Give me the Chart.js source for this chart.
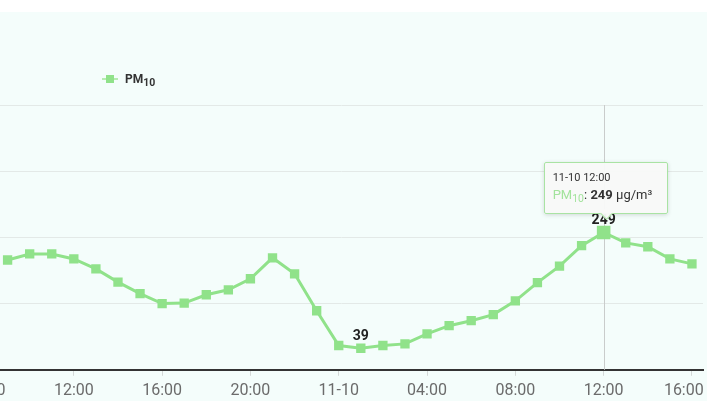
<!DOCTYPE html>
<html>
<head>
<meta charset="utf-8">
<title>PM10</title>
<script src="https://cdn.jsdelivr.net/npm/chart.js@4.4.0/dist/chart.umd.min.js"></script>
<style>
  html, body { margin: 0; padding: 0; background: #fff; overflow: hidden; width: 707px; height: 401px; }
  #wrap { position: absolute; left: 0; top: 12px; width: 707px; height: 389px; background: #f4fdfb; overflow: hidden; font-family: Roboto, sans-serif; }
  #chartBox { position: absolute; left: -60px; top: 0; width: 767px; height: 395px; }
  #legend { position: absolute; left: 102px; top: 59px; height: 16px; display: flex; align-items: center; color: #333; font: bold 12px Roboto, sans-serif; }
  #legend .mark { position: relative; width: 16px; height: 8px; margin-right: 7px; }
  #legend .mark::before { content: ''; position: absolute; left: 0; right: 0; top: 3px; height: 2px; background: #b5ecb0; }
  #legend .mark::after { content: ''; position: absolute; left: 4px; top: 0; width: 8px; height: 8px; background: #90e28a; }
  #legend sub { font-size: 10.5px; vertical-align: -3px; line-height: 0; }
  #tip { position: absolute; display: none; box-sizing: border-box; width: 124px; height: 52px; padding: 8px 0 0 8px; background: rgba(248, 249, 248, 0.96); border: 1px solid #a9e3a3; border-radius: 2px; box-shadow: 0 1px 4px rgba(0,0,0,0.15); color: #333; pointer-events: none; }
  #tip::after { content: ''; position: absolute; left: 57px; bottom: -5px; width: 8px; height: 8px; background: rgba(248, 249, 248, 0.96); border-right: 1px solid #a9e3a3; border-bottom: 1px solid #a9e3a3; transform: rotate(45deg); }
  #tip .t1 { font-size: 11px; line-height: 14px; }
  #tip .t2 { font-size: 13px; line-height: 19px; white-space: nowrap; }
  #tip .t2 .sn { color: #a3e39c; }
  #tip sub { font-size: 10.5px; vertical-align: -3px; line-height: 0; }
</style>
</head>
<body>
<div id="wrap">
  <div id="chartBox"><canvas id="chart"></canvas></div>
  <div id="legend"><span class="mark"></span><span>PM<sub>10</sub></span></div>
  <div id="tip"></div>
</div>
<script>
// hours counted from 11-09 00:00
const hours = [9, 10, 11, 12, 13, 14, 15, 16, 17, 18, 19, 20, 21, 22, 23,
  24, 25, 26, 27, 28, 29, 30, 31, 32, 33, 34, 35, 36, 37, 38, 39, 40];
const pm10 = [199, 210, 210, 201, 183, 159, 138, 120, 121, 136, 145, 165, 203, 174, 107,
  44, 39, 44, 47, 65, 80, 89, 100, 125, 158, 188, 225, 249, 230, 223, 201, 192];
const tickHours = [8, 12, 16, 20, 24, 28, 32, 36, 40];
const tickLabels = ['08:00', '12:00', '16:00', '20:00', '11-10', '04:00', '08:00', '12:00', '16:00'];
const yTicks = [0, 120, 240, 360, 480];
const activeIndex = 27;

const green = '#90e28a';

function fmtTime(h) {
  const day = h >= 24 ? '11-10' : '11-09';
  const hh = String(h % 24).padStart(2, '0');
  return day + ' ' + hh + ':00';
}

function externalTip(context) {
  const tip = document.getElementById('tip');
  const tt = context.tooltip;
  if (tt.opacity === 0 || !tt.dataPoints || !tt.dataPoints.length) {
    tip.style.display = 'none';
    return;
  }
  const dp = tt.dataPoints[0];
  tip.innerHTML = '<div class="t1">' + fmtTime(dp.parsed.x) + '</div>' +
    '<div class="t2"><span class="sn">PM<sub>10</sub></span>: <b>' + dp.parsed.y + '</b> \u03bcg/m\u00b3</div>';
  tip.style.display = 'block';
  const pt = context.chart.getDatasetMeta(0).data[dp.dataIndex];
  tip.style.left = (pt.x - 60 - tip.offsetWidth / 2 + 2) + 'px';
  tip.style.top = (pt.y - 18 - tip.offsetHeight) + 'px';
}

// vertical line at the hovered point
const crosshair = {
  id: 'crosshair',
  beforeDatasetsDraw(chart) {
    const act = chart.getActiveElements();
    if (!act.length) return;
    const x = act[0].element.x;
    const a = chart.chartArea;
    const ctx = chart.ctx;
    ctx.save();
    ctx.strokeStyle = '#c9cccb';
    ctx.lineWidth = 1;
    ctx.beginPath();
    ctx.moveTo(Math.round(x) + 0.5, a.top);
    ctx.lineTo(Math.round(x) + 0.5, a.bottom);
    ctx.stroke();
    ctx.restore();
  }
};

// min / max value labels
const minMaxLabels = {
  id: 'minMaxLabels',
  afterDatasetsDraw(chart) {
    const meta = chart.getDatasetMeta(0);
    const vals = pm10;
    const iMin = vals.indexOf(Math.min(...vals));
    const iMax = vals.indexOf(Math.max(...vals));
    const ctx = chart.ctx;
    ctx.save();
    ctx.font = 'bold 14px Roboto, sans-serif';
    ctx.fillStyle = '#222';
    ctx.textAlign = 'center';
    ctx.textBaseline = 'alphabetic';
    [iMin, iMax].forEach(i => {
      const p = meta.data[i];
      ctx.fillText(String(vals[i]), p.x, p.y - 8);
    });
    ctx.restore();
  }
};

const chart = new Chart(document.getElementById('chart'), {
  type: 'line',
  data: {
    datasets: [{
      label: 'PM10',
      data: hours.map((h, i) => ({ x: h, y: pm10[i] })),
      borderColor: green,
      backgroundColor: green,
      borderWidth: 3,
      tension: 0,
      pointStyle: 'rect',
      pointRadius: 6.6,
      pointBorderWidth: 0,
      pointHoverRadius: 9.6,
      pointHoverBorderWidth: 0,
      pointBackgroundColor: green,
      pointHoverBackgroundColor: green
    }]
  },
  plugins: [crosshair, minMaxLabels],
  options: {
    responsive: true,
    maintainAspectRatio: false,
    animation: false,
    events: [],
    layout: { autoPadding: false, padding: { left: 40, right: 4, top: 93, bottom: 0 } },
    plugins: {
      legend: { display: false },
      tooltip: { enabled: false, external: externalTip, mode: 'nearest', intersect: false }
    },
    scales: {
      x: {
        type: 'linear',
        min: 7.75,
        max: 40.5,
        afterBuildTicks(scale) {
          scale.ticks = tickHours.map(v => ({ value: v }));
        },
        afterFit(scale) {
          scale.paddingLeft = 0;
          scale.paddingRight = 0;
        },
        grid: { drawOnChartArea: false, drawTicks: true, tickLength: 6, color: '#d4d8d7' },
        border: { display: true, color: '#333', width: 2 },
        ticks: {
          autoSkip: false,
          maxRotation: 0,
          padding: 6,
          color: '#6b6b6b',
          font: { family: 'Roboto', size: 16 },
          callback(value) {
            const i = tickHours.indexOf(value);
            if (i < 0) return '';
            // keep the last label inside the frame
            return i === tickHours.length - 1 ? tickLabels[i] + '\u2002\u2002' : tickLabels[i];
          }
        }
      },
      y: {
        min: yTicks[0],
        max: yTicks[yTicks.length - 1],
        afterBuildTicks(scale) {
          scale.ticks = yTicks.map(v => ({ value: v }));
        },
        grid: { color: '#e3e9e7', lineWidth: 1, drawTicks: false },
        border: { display: false },
        ticks: { display: false }
      }
    }
  }
});

const pt = chart.getDatasetMeta(0).data[activeIndex];
chart.setActiveElements([{ datasetIndex: 0, index: activeIndex }]);
chart.tooltip.setActiveElements([{ datasetIndex: 0, index: activeIndex }], { x: pt.x, y: pt.y });
chart.update('none');
</script>
</body>
</html>
